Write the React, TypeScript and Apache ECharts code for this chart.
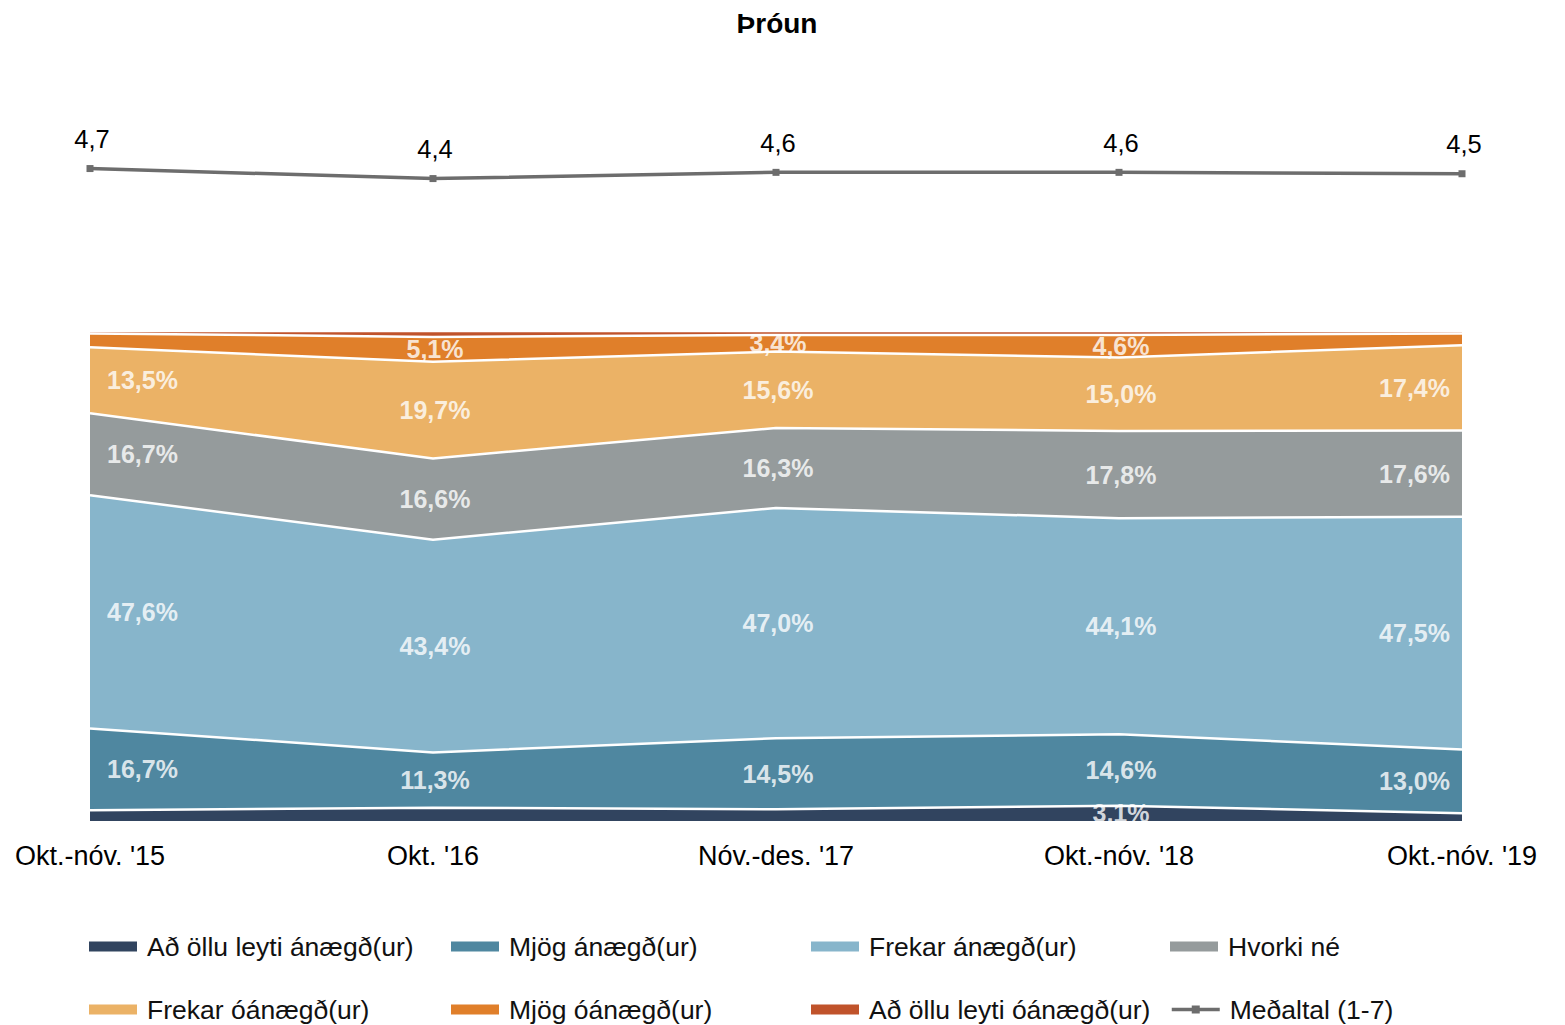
import React, { useEffect, useRef } from "react";
import * as echarts from "echarts";

const categories = ["Okt.-nóv. '15", "Okt. '16", "Nóv.-des. '17", "Okt.-nóv. '18", "Okt.-nóv. '19"];

const seriesNames = [
  "Að öllu leyti ánægð(ur)",
  "Mjög ánægð(ur)",
  "Frekar ánægð(ur)",
  "Hvorki né",
  "Frekar óánægð(ur)",
  "Mjög óánægð(ur)",
  "Að öllu leyti óánægð(ur)",
];

const adOlluAnaegd = [2.2, 2.7, 2.4, 3.1, 1.6];
const mjogAnaegd = [16.7, 11.3, 14.5, 14.6, 13.0];
const frekarAnaegd = [47.6, 43.4, 47.0, 44.1, 47.5];
const hvorkiNe = [16.7, 16.6, 16.3, 17.8, 17.6];
const frekarOanaegd = [13.5, 19.7, 15.6, 15.0, 17.4];
const mjogOanaegd = [2.8, 5.1, 3.4, 4.6, 2.4];
const adOlluOanaegd = [0.5, 1.2, 0.8, 0.8, 0.5];

const medaltal = [4.67, 4.38, 4.56, 4.56, 4.52];
const medaltalName = "Meðaltal (1-7)";

const colors = ["#31445f", "#4f87a0", "#87b5cb", "#959b9c", "#ebb266", "#e07f2a", "#c0532b"];
const lineColor = "#6d6d6d";

const stackData = [adOlluAnaegd, mjogAnaegd, frekarAnaegd, hvorkiNe, frekarOanaegd, mjogOanaegd, adOlluOanaegd];

const fmt = (v: number) => v.toFixed(1).replace(".", ",");

export default function App() {
  const ref = useRef<HTMLDivElement>(null);
  useEffect(() => {
    document.body.style.margin = "0";
    const chart = echarts.init(ref.current!, null, { renderer: "svg" });
    const font = "Liberation Sans, Arial, sans-serif";

    const areaSeries = stackData.map((d, i) => ({
      name: seriesNames[i],
      type: "line",
      stack: "total",
      xAxisIndex: 0,
      yAxisIndex: 0,
      data: d,
      symbol: "none",
      color: colors[i],
      itemStyle: { color: colors[i] },
      lineStyle: { color: "#ffffff", width: 2.5 },
      areaStyle: { color: colors[i], opacity: 1 },
      emphasis: { disabled: true },
      z: 2,
    }));

    const labelData: any[] = [];
    categories.forEach((_, ci) => {
      let base = 0;
      stackData.forEach((d) => {
        const v = d[ci];
        if (v >= 3) {
          const isFirst = ci === 0;
          const isLast = ci === categories.length - 1;
          labelData.push({
            value: [ci, base + v / 2],
            pct: v,
            label: {
              align: isFirst ? "left" : isLast ? "right" : "center",
              offset: isFirst ? [17, 0] : isLast ? [-12, 0] : [2, 0],
            },
          });
        }
        base += v;
      });
    });

    const legendItems = [
      { name: seriesNames[0], left: 89, top: 933 },
      { name: seriesNames[1], left: 451, top: 933 },
      { name: seriesNames[2], left: 811, top: 933 },
      { name: seriesNames[3], left: 1170, top: 933 },
      { name: seriesNames[4], left: 89, top: 996 },
      { name: seriesNames[5], left: 451, top: 996 },
      { name: seriesNames[6], left: 811, top: 996 },
      { name: medaltalName, left: 1170, top: 996 },
    ];

    const option: any = {
      animation: false,
      backgroundColor: "#ffffff",
      legend: legendItems.map((l) => {
        const isMean = l.name === medaltalName;
        return {
          data: [isMean ? { name: l.name } : { name: l.name, icon: "rect" }],
          left: l.left,
          top: l.top,
          padding: 0,
          itemWidth: 48,
          itemHeight: 10,
          selectedMode: false,
          itemStyle: isMean ? { color: lineColor } : { borderWidth: 0 },
          lineStyle: isMean ? { color: lineColor, width: 3.5 } : undefined,
          textStyle: { fontFamily: font, fontSize: 26.5, color: "#111", padding: [0, 0, 0, 5] },
        };
      }),
      grid: [
        { left: 90, right: 103, top: 331, height: 490 },
        { left: 90, right: 103, top: 88, height: 242 },
      ],
      xAxis: [
        {
          type: "category",
          gridIndex: 0,
          data: categories,
          boundaryGap: false,
          axisLine: { show: false },
          axisTick: { show: false },
          axisLabel: { fontFamily: font, fontSize: 27, color: "#000", margin: 21 },
        },
        {
          type: "category",
          gridIndex: 1,
          data: categories,
          boundaryGap: false,
          show: false,
        },
      ],
      yAxis: [
        { type: "value", gridIndex: 0, min: 0, max: 100, show: false, splitLine: { show: false } },
        { type: "value", gridIndex: 1, min: 0, max: 7, show: false, splitLine: { show: false } },
      ],
      series: [
        ...areaSeries,
        {
          name: "labels",
          type: "scatter",
          xAxisIndex: 0,
          yAxisIndex: 0,
          symbolSize: 0,
          data: labelData,
          silent: true,
          z: 5,
          label: {
            show: true,
            position: "inside",
            formatter: (p: any) => fmt(p.data.pct) + "%",
            fontFamily: font,
            fontSize: 25,
            fontWeight: "bold",
            color: "#ffffff",
          },
        },
        {
          name: medaltalName,
          type: "line",
          xAxisIndex: 1,
          yAxisIndex: 1,
          data: medaltal,
          color: lineColor,
          symbol: "rect",
          symbolSize: 7,
          lineStyle: { color: lineColor, width: 3.5 },
          itemStyle: { color: lineColor },
          emphasis: { disabled: true },
          label: {
            show: true,
            position: "top",
            distance: 13,
            offset: [2, 0],
            formatter: (p: any) => fmt(p.value),
            fontFamily: font,
            fontSize: 25.5,
            color: "#000",
          },
        },
      ],
      graphic: [
        {
          type: "text",
          x: 777,
          y: 23,
          z: 100,
          style: {
            text: "Þróun",
            fontFamily: font,
            fontSize: 28,
            fontWeight: "bold",
            fill: "#000",
            textAlign: "center",
            textVerticalAlign: "middle",
          },
        },
        {
          type: "rect",
          left: 80,
          top: 821,
          shape: { width: 1400, height: 12 },
          style: { fill: "#ffffff" },
          z: 100,
        },
      ],
    };
    chart.setOption(option);
    return () => chart.dispose();
  }, []);
  return <div ref={ref} style={{ width: 1565, height: 1025 }} />;
}
